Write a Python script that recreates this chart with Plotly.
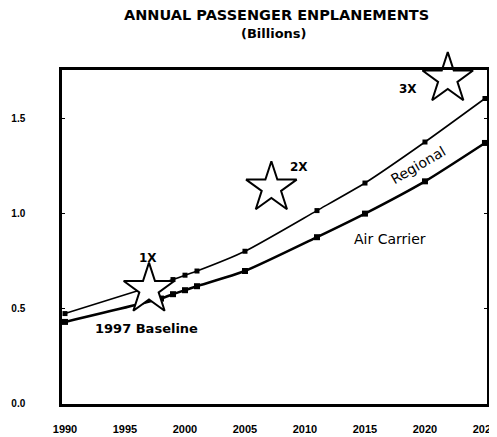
import plotly.graph_objects as go

years = [1990, 1998, 1999, 2000, 2001, 2005, 2011, 2015, 2020, 2025]
regional_total = [0.472, 0.630, 0.651, 0.674, 0.696, 0.800, 1.014, 1.159, 1.375, 1.604]
air_carrier = [0.428, 0.551, 0.574, 0.595, 0.616, 0.696, 0.874, 0.998, 1.168, 1.370]

star_years = [1997, 2007.2, 2021.9]
star_values = [0.600, 1.134, 1.708]

x_ticks = [1990, 1995, 2000, 2005, 2010, 2015, 2020, 2025]
y_ticks = [0.0, 0.5, 1.0, 1.5]
y_tick_labels = ["0.0", "0.5", "1.0", "1.5"]

# the page body adds an 8px offset; compensate in the figure size/margins
OFF = 8
PL, PT, PW, PH = 62 - OFF, 70 - OFF, 425, 334
FW, FH = 497 - OFF, 437 - OFF

fig = go.Figure()
fig.add_trace(go.Scatter(
    x=years, y=regional_total, mode="lines+markers", name="Regional",
    line=dict(color="black", width=1.6, shape="spline", smoothing=0.6),
    marker=dict(symbol="square", size=5, color="black"),
))
fig.add_trace(go.Scatter(
    x=years, y=air_carrier, mode="lines+markers", name="Air Carrier",
    line=dict(color="black", width=2.5, shape="spline", smoothing=0.6),
    marker=dict(symbol="square", size=6, color="black"),
))
fig.add_trace(go.Scatter(
    x=star_years, y=star_values, mode="markers", name="Targets",
    marker=dict(symbol="star", size=38, color="white",
                line=dict(color="black", width=2)),
    cliponaxis=False,
))

bold = dict(family="DejaVu Sans", color="black", weight="bold")
ann = [
    dict(text="ANNUAL PASSENGER ENPLANEMENTS", xref="paper", yref="paper",
         x=(276 - 62) / PW, y=1 + (70 - 15) / PH, font=dict(size=14.5, **bold)),
    dict(text="(Billions)", xref="paper", yref="paper",
         x=(274 - 62) / PW, y=1 + (70 - 33) / PH, font=dict(size=13, **bold)),
    dict(text="1X", x=1996.9, y=0.766, font=dict(size=12, **bold)),
    dict(text="2X", x=2009.5, y=1.242, font=dict(size=12, **bold)),
    dict(text="3X", x=2018.6, y=1.653, font=dict(size=12, **bold)),
    dict(text="1997 Baseline", x=1996.8, y=0.392, font=dict(size=13, **bold)),
    dict(text="Regional", x=2019.45, y=1.253, textangle=-30,
         font=dict(size=14, family="DejaVu Sans", color="black")),
    dict(text="Air Carrier", x=2017.1, y=0.867,
         font=dict(size=14, family="DejaVu Sans", color="black")),
]
for a in ann:
    a.setdefault("xref", "x")
    a.setdefault("yref", "y")
    a["showarrow"] = False
    a["xanchor"] = "center"
    a["yanchor"] = "middle"

fig.update_layout(
    width=FW, height=FH,
    margin=dict(l=PL, r=FW - PL - PW, t=PT, b=FH - PT - PH, autoexpand=False),
    paper_bgcolor="white", plot_bgcolor="white",
    showlegend=False,
    annotations=ann,
)
fig.update_xaxes(
    range=[1989.75, 2025.17], tickvals=x_ticks, ticks="",
    showgrid=False, zeroline=False,
    showline=True, linecolor="black", linewidth=2.5, mirror=True,
    tickfont=dict(family="Liberation Sans", size=11, color="black", weight="bold"),
    ticklabelstandoff=13, ticklabeloverflow="allow",
)
fig.update_yaxes(
    range=[-0.004, 1.754], tickvals=y_ticks, ticktext=y_tick_labels,
    ticks="inside", ticklen=3, tickcolor="black", tickwidth=1,
    showgrid=False, zeroline=False,
    showline=True, linecolor="black", linewidth=2.5, mirror="ticks",
    tickfont=dict(family="Liberation Sans", size=10, color="black", weight="bold"),
    ticklabelstandoff=32,
)

fig.write_html("out.html")
